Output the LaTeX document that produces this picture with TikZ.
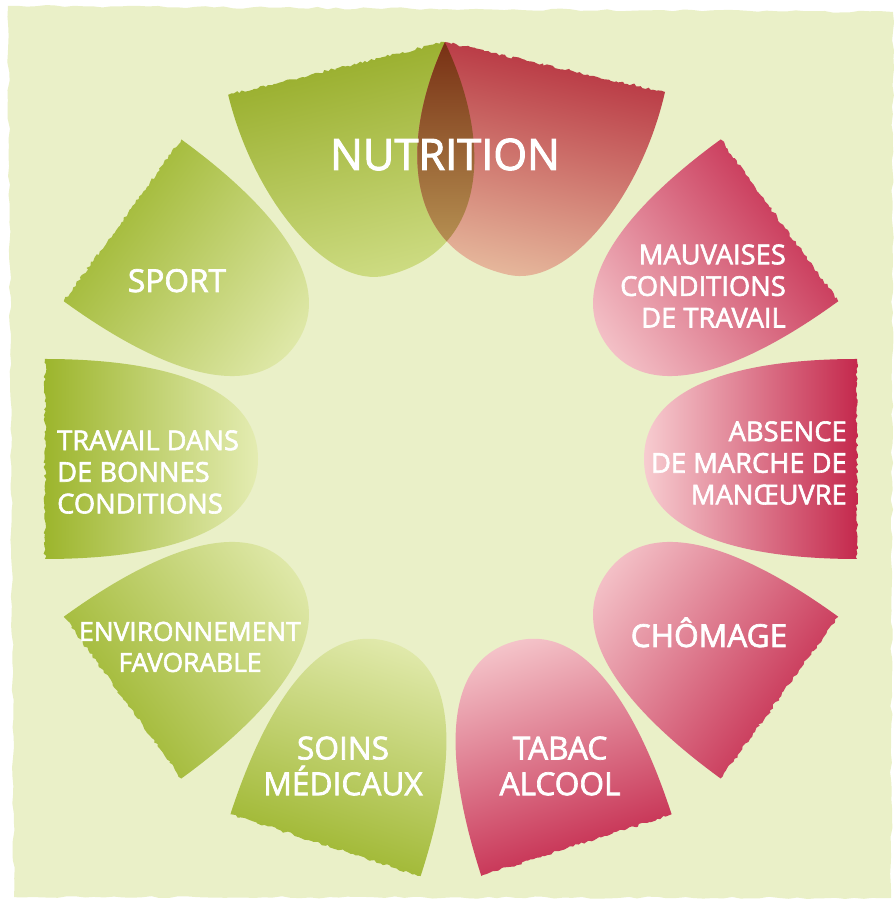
\documentclass[tikz,border=0pt]{standalone}
\usepackage{fontspec}
\setmainfont{Open Sans}
\newfontfamily\lblfont{Open Sans}[FakeBold=2.2]
\usetikzlibrary{decorations.pathmorphing}

\definecolor{bgc}{RGB}{234,240,200}
\definecolor{grnD}{RGB}{156,181,44}
\definecolor{grnL}{RGB}{228,236,178}
\definecolor{redD}{RGB}{196,40,76}
\definecolor{redL}{RGB}{247,204,208}
\definecolor{nutgD}{RGB}{150,172,40}
\definecolor{nutgL}{RGB}{208,222,135}
\definecolor{nutrD}{RGB}{182,48,62}
\definecolor{nutrL}{RGB}{232,190,160}
\definecolor{lensD}{RGB}{120,48,20}
\definecolor{lensL}{RGB}{195,165,95}

\tikzset{rough/.style={decoration={random steps,segment length=2.5pt,amplitude=1.2pt}}}

% leaf outline: chord at x=0, tip at x=-L; #1=h, #2=L, #3/#4 fullness of +y side, #5/#6 of -y side
\newcommand{\leafpath}[6]{(0,#1) .. controls ({-0.5*#2},{#3*#1}) and ({-#2},{#4*#1}) .. ({-#2},0) .. controls ({-#2},{-#6*#1}) and ({-0.5*#2},{-#5*#1}) .. (0,{-#1}) decorate[rough] {-- (0,#1)}}

\begin{document}
\begin{tikzpicture}[x=0.03cm, y=0.03cm,
	lbl/.style={text=white, inner sep=0pt},
	big/.style={lbl, font=\lblfont\fontsize{27}{30.5}\selectfont},
	mid/.style={lbl, font=\lblfont\fontsize{22.5}{26.5}\selectfont},
	small/.style={lbl, font=\lblfont\fontsize{23.3}{27}\selectfont}]
	\pgfmathsetseed{7}
	\fill[white] (0,0) rectangle (893,900);
	\fill[bgc, decorate, decoration={random steps,segment length=8pt,amplitude=1pt}] (8,894) -- (893,888) -- (891,2) -- (14,3) -- cycle;
	% eight outer leaves
	\foreach \a/\col in {0/red,36/red,-36/red,-72/red,-108/grn,-144/grn,180/grn,144/grn}{
		\pgfmathsetmacro{\sa}{\a-90}
		\begin{scope}[shift={(451,441)}, rotate=\a, shift={(406,0)}]
			\shade[top color=\col D, bottom color=\col L, shading angle=\sa] \leafpath{100}{213}{1}{0.78}{1}{0.78};
		\end{scope}
	}
	% nutrition pair
	\begin{scope}[shift={(336.5,831.5)}, rotate=103.7]
		\shade[top color=nutgD, bottom color=nutgL, shading angle=13.7] \leafpath{111.5}{213}{1}{0.55}{1.2}{0.95};
	\end{scope}
	\begin{scope}[shift={(555,833)}, rotate=77.2]
		\shade[top color=nutrD, bottom color=nutrL, shading angle=-12.8] \leafpath{112.8}{213}{1.2}{0.95}{1}{0.55};
	\end{scope}
	\begin{scope}[shift={(336.5,831.5)}, rotate=103.7]
		\clip \leafpath{111.5}{213}{1}{0.55}{1.2}{0.95};
		\begin{scope}[rotate=-103.7, shift={(218.5,1.5)}, rotate=77.2]
			\shade[top color=lensD, bottom color=lensL] \leafpath{112.8}{213}{1.2}{0.95}{1}{0.55};
		\end{scope}
	\end{scope}
	% labels
	\node[lbl, font=\lblfont\fontsize{37}{44}\selectfont, anchor=base] (nutri) at (445,730) {NUTRITION};
	\node[big, anchor=base] (sport) at (177,608) {SPORT};
	\node[small, align=right, anchor=east] (mauv) at (786,614) {MAUVAISES\\CONDITIONS\\DE TRAVAIL};
	\node[small, align=right, anchor=east] (absence) at (847,437) {ABSENCE\\DE MARCHE DE\\MANŒUVRE};
	\node[small, align=left, anchor=west] (travail) at (57,428) {TRAVAIL DANS\\DE BONNES\\CONDITIONS};
	\node[mid, align=center] (envir) at (190,253) {ENVIRONNEMENT\\FAVORABLE};
	\node[big, anchor=base] (chomage) at (709,253) {CHÔMAGE};
	\node[big, align=center] (soins) at (343,134) {SOINS\\MÉDICAUX};
	\node[big, align=center] (tabac) at (560,134) {TABAC\\ALCOOL};
\end{tikzpicture}
\end{document}
